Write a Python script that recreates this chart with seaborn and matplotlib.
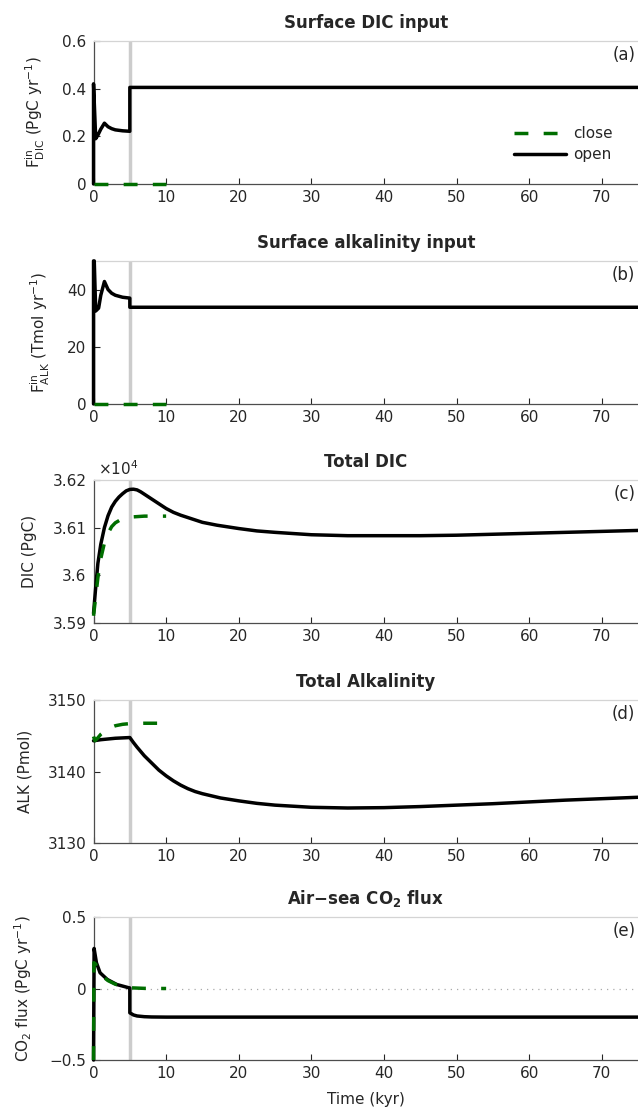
import numpy as np
import pandas as pd
import matplotlib
matplotlib.use("Agg")
import matplotlib.pyplot as plt
import seaborn as sns

sns.set_theme(style="ticks")
plt.rcParams["font.family"] = ["DejaVu Sans"]
plt.rcParams["mathtext.default"] = "regular"

# ---------------- data ----------------
# (a) surface DIC input, PgC/yr
t_a_open = [0, 0, 0.3, 0.6, 1.0, 1.5, 2.0, 2.5, 3.0, 4.0, 5.0, 5.0, 75]
a_open = [0, 0.42, 0.19, 0.205, 0.23, 0.255, 0.24, 0.232, 0.227, 0.223, 0.221, 0.405, 0.405]
t_a_close = [0, 10]
a_close = [0, 0]

# (b) surface alkalinity input, Tmol/yr
t_b_open = [0, 0, 0.1, 0.3, 0.7, 1.0, 1.5, 2.0, 2.5, 3.0, 4.0, 5.0, 5.0, 75]
b_open = [0, 50, 50, 32.5, 33.5, 38.0, 42.8, 40.0, 38.7, 38.0, 37.3, 37.0, 33.8, 33.8]
t_b_close = [0, 10]
b_close = [0, 0]

# (c) total DIC, PgC
t_c_open = [0, 0.3, 0.6, 1.0, 1.5, 2.0, 2.5, 3.0, 3.5, 4.0, 4.5, 5.0, 5.5, 6.0, 6.5,
            7.0, 8.0, 9.0, 10, 11, 12, 13, 15, 17, 20, 22.5, 25, 30, 35, 40, 45, 50,
            55, 60, 65, 70, 75]
c_open = [35920, 35975, 36025, 36065, 36100, 36125, 36143, 36155, 36164, 36171, 36177,
          36180, 36180.5, 36179, 36175, 36170, 36160, 36150, 36140, 36132, 36126,
          36121, 36111, 36105, 36098, 36093, 36090, 36085, 36083, 36083, 36083,
          36084, 36086, 36088, 36090, 36092, 36094]
t_c_close = [0, 0.3, 0.6, 1.0, 1.5, 2.0, 2.5, 3.0, 4.0, 5.0, 7.0, 10]
c_close = [35915, 35955, 35995, 36035, 36068, 36088, 36102, 36110, 36119, 36122, 36124, 36124]

# (d) total alkalinity, Pmol
t_d_open = [0, 1, 2, 3, 4, 5, 5.5, 6, 6.5, 7, 8, 9, 10, 11, 12, 13, 14, 15, 17.5, 20,
            22.5, 25, 30, 35, 40, 45, 50, 55, 60, 65, 70, 75]
d_open = [3144.3, 3144.45, 3144.55, 3144.65, 3144.7, 3144.75, 3144.05, 3143.4, 3142.8,
          3142.2, 3141.2, 3140.2, 3139.4, 3138.7, 3138.1, 3137.6, 3137.2, 3136.9,
          3136.3, 3135.9, 3135.55, 3135.3, 3135.0, 3134.9, 3134.95, 3135.1, 3135.3,
          3135.5, 3135.75, 3136.0, 3136.2, 3136.4]
t_d_close = [0, 0.2, 0.5, 1.0, 2.0, 3.0, 4.0, 5.0, 7.0, 10]
d_close = [3144.9, 3144.3, 3144.6, 3145.2, 3146.0, 3146.4, 3146.6, 3146.7, 3146.75, 3146.75]

# (e) air-sea CO2 flux, PgC/yr
t_e_open = [0, 0.08, 0.4, 0.9, 1.9, 3.2, 4.8, 5.0, 5.0, 5.5, 6.0, 7.0, 8.0, 10, 75]
e_open = [-0.5, 0.28, 0.18, 0.11, 0.063, 0.028, 0.006, 0.004, -0.17, -0.185, -0.192,
          -0.197, -0.199, -0.2, -0.2]
t_e_close = [0, 0.05, 0.3, 0.6, 1.0, 1.5, 2.0, 3.0, 4.0, 5.0, 7.0, 10]
e_close = [-0.5, 0.18, 0.17, 0.13, 0.10, 0.075, 0.055, 0.03, 0.015, 0.005, 0.001, 0.0]

titles = ["Surface DIC input", "Surface alkalinity input", "Total DIC",
          "Total Alkalinity", "Air\u2212sea CO$_\\mathbf{2}$ flux"]
ylabels = ["F$_{DIC}^{in}$ (PgC yr$^{-1}$)", "F$_{ALK}^{in}$ (Tmol yr$^{-1}$)",
           "DIC (PgC)", "ALK (Pmol)", "CO$_2$ flux (PgC yr$^{-1}$)"]
panel_tags = ["(a)", "(b)", "(c)", "(d)", "(e)"]
xticks = [0, 10, 20, 30, 40, 50, 60, 70]
ylims = [(0, 0.6), (0, 50), (35900, 36200), (3130, 3150), (-0.5, 0.5)]
yticks = [[0, 0.2, 0.4, 0.6], [0, 20, 40], [35900, 36000, 36100, 36200],
          [3130, 3140, 3150], [-0.5, 0, 0.5]]
ytick_labels = [["0", "0.2", "0.4", "0.6"], ["0", "20", "40"],
                ["3.59", "3.6", "3.61", "3.62"], ["3130", "3140", "3150"],
                ["\u22120.5", "0", "0.5"]]
t_switch = 5

series = [
    (t_a_open, a_open, t_a_close, a_close),
    (t_b_open, b_open, t_b_close, b_close),
    (t_c_open, c_open, t_c_close, c_close),
    (t_d_open, d_open, t_d_close, d_close),
    (t_e_open, e_open, t_e_close, e_close),
]

# ---------------- figure ----------------
fig = plt.figure(figsize=(6.38, 11.15), dpi=100)
bottoms = [0.8350, 0.6377, 0.4413, 0.2439, 0.0493]
left, width, height = 0.1466, 0.8534, 0.1283
GREEN = "#006e00"
FS = 11

for i in range(5):
    ax = fig.add_axes([left, bottoms[i], width, height])
    to, vo, tc, vc = series[i]
    ax.axvline(t_switch, color="#cccccc", lw=2.5, zorder=1)
    if i == 4:
        ax.axhline(0, color="#aaaaaa", lw=0.9, ls=(0, (1, 4)), zorder=1)
    sns.lineplot(x=to, y=vo, ax=ax, color="black", lw=2.5, estimator=None,
                 sort=False, label="open" if i == 0 else None, zorder=3,
                 clip_on=False)
    sns.lineplot(x=tc, y=vc, ax=ax, color=GREEN, lw=2.5, estimator=None,
                 sort=False, label="close" if i == 0 else None, zorder=4,
                 linestyle=(0, (4.0, 4.4)), clip_on=False)
    ax.set_xlim(0, 75)
    ax.set_ylim(*ylims[i])
    ax.set_xticks(xticks)
    ax.set_yticks(yticks[i])
    ax.set_yticklabels(ytick_labels[i])
    ax.tick_params(direction="in", length=4, width=0.8, colors="#262626",
                   labelsize=FS, pad=5)
    ax.tick_params(axis="x", pad=4)
    for s in ["left", "bottom"]:
        ax.spines[s].set_color("#4d4d4d")
        ax.spines[s].set_linewidth(0.9)
    ax.spines["top"].set_visible(True)
    ax.spines["top"].set_color("#d4d4d4")
    ax.spines["top"].set_linewidth(0.9)
    ax.spines["right"].set_visible(False)
    ax.set_title(titles[i], fontsize=12, fontweight="bold", pad=9)
    ax.set_ylabel(ylabels[i], fontsize=FS, labelpad=11)
    ax.set_xlabel("Time (kyr)" if i == 4 else "", fontsize=FS, labelpad=8)
    ax.text(0.995, 0.90, panel_tags[i], transform=ax.transAxes, ha="right",
            va="center", fontsize=12)
    if i == 2:
        ax.text(0.008, 1.01, "\u00d710$^{4}$", transform=ax.transAxes,
                ha="left", va="bottom", fontsize=FS)
    if i == 0:
        h, l = ax.get_legend_handles_labels()
        order = [l.index("close"), l.index("open")]
        ax.legend([h[k] for k in order], [l[k] for k in order],
                  loc="center left", bbox_to_anchor=(0.772, 0.28),
                  frameon=False, fontsize=FS, handlelength=3.4,
                  handletextpad=0.45, labelspacing=0.4, borderpad=0,
                  borderaxespad=0)
    else:
        if ax.get_legend() is not None:
            ax.get_legend().remove()

fig.savefig("out.png", dpi=100)
